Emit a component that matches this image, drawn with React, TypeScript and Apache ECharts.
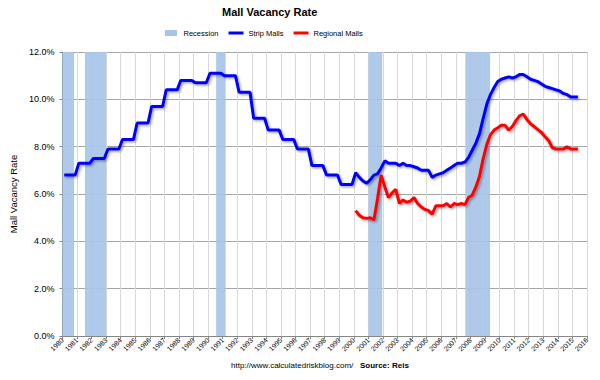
import React, { useEffect, useRef } from "react";
import * as echarts from "echarts";

// Quarterly vacancy rates (%), Strip Malls from 1980 Q1, Regional Malls from 2000 Q1
const stripStartYear = 1980;
const stripMalls = [
  6.8, 6.8, 6.8, 6.8, // 1980
  7.3, 7.3, 7.3, 7.3, // 1981
  7.5, 7.5, 7.5, 7.5, // 1982
  7.9, 7.9, 7.9, 7.9, // 1983
  8.3, 8.3, 8.3, 8.3, // 1984
  9.0, 9.0, 9.0, 9.0, // 1985
  9.7, 9.7, 9.7, 9.7, // 1986
  10.4, 10.4, 10.4, 10.4, // 1987
  10.8, 10.8, 10.8, 10.8, // 1988
  10.7, 10.7, 10.7, 10.7, // 1989
  11.1, 11.1, 11.1, 11.1, // 1990
  11.0, 11.0, 11.0, 11.0, // 1991
  10.3, 10.3, 10.3, 10.3, // 1992
  9.2, 9.2, 9.2, 9.2, // 1993
  8.7, 8.7, 8.7, 8.7, // 1994
  8.3, 8.3, 8.3, 8.3, // 1995
  7.9, 7.9, 7.9, 7.9, // 1996
  7.2, 7.2, 7.2, 7.2, // 1997
  6.8, 6.8, 6.8, 6.8, // 1998
  6.4, 6.4, 6.4, 6.4, // 1999
  6.9, 6.7, 6.55, 6.45, // 2000
  6.6, 6.8, 6.85, 7.1, // 2001
  7.4, 7.3, 7.3, 7.3, // 2002
  7.2, 7.3, 7.2, 7.2, // 2003
  7.15, 7.1, 7.0, 7.0, // 2004
  7.0, 6.7, 6.8, 6.85, // 2005
  6.9, 7.0, 7.1, 7.2, // 2006
  7.3, 7.3, 7.35, 7.55, // 2007
  7.85, 8.15, 8.55, 9.2, // 2008
  9.8, 10.2, 10.5, 10.75, // 2009
  10.85, 10.9, 10.95, 10.9, // 2010
  10.95, 11.05, 11.05, 10.95, // 2011
  10.85, 10.8, 10.75, 10.65, // 2012
  10.55, 10.5, 10.45, 10.4, // 2013
  10.35, 10.25, 10.2, 10.1, // 2014
  10.1, 10.1, // 2015
];

const regionalStartYear = 2000;
const regionalMalls = [
  5.3, 5.1, 5.0, 4.97, // 2000
  5.0, 4.9, 5.8, 6.8, // 2001
  6.3, 5.85, 6.05, 6.2, // 2002
  5.6, 5.75, 5.65, 5.7, // 2003
  5.85, 5.6, 5.45, 5.35, // 2004
  5.3, 5.15, 5.5, 5.5, // 2005
  5.5, 5.6, 5.45, 5.6, // 2006
  5.55, 5.6, 5.55, 5.85, // 2007
  5.95, 6.3, 6.75, 7.5, // 2008
  8.1, 8.5, 8.7, 8.8, // 2009
  8.9, 8.9, 8.7, 8.85, // 2010
  9.1, 9.3, 9.38, 9.15, // 2011
  8.97, 8.85, 8.72, 8.6, // 2012
  8.42, 8.25, 7.95, 7.9, // 2013
  7.9, 7.9, 8.0, 7.9, // 2014
  7.9, 7.9, // 2015
];

// Recession periods [start, end] in fractional years
const recessionStarts = [1980.0, 1981.55, 1990.55, 2001.0, 2007.65];
const recessionEnds = [1980.8, 1983.0, 1991.2, 2001.95, 2009.35];

const yTicks = [0, 2, 4, 6, 8, 10, 12];
const xMinYear = 1980;
const xMaxYear = 2016;

const FONT = "'Liberation Sans', Arial, sans-serif";

function toQuarterPoints(start: number, vals: number[]) {
  return vals.map((v, i) => [start + (i + 0.5) / 4, v]);
}

export default function App() {
  const ref = useRef<HTMLDivElement>(null);
  useEffect(() => {
    if (!ref.current) return;
    const chart = echarts.init(ref.current, undefined, { renderer: "svg" });
    const shadow = {
      shadowColor: "rgba(0,0,0,0.35)",
      shadowBlur: 2,
      shadowOffsetX: 1.5,
      shadowOffsetY: 1.5,
    };
    chart.setOption({
      animation: false,
      backgroundColor: "#ffffff",
      textStyle: { fontFamily: FONT },
      title: [
        {
          text: "Mall Vacancy Rate",
          left: 217,
          top: 1,
          textStyle: { fontSize: 11, fontWeight: "bold", color: "#000", fontFamily: FONT },
        },
        {
          text: "{a|http://www.calculatedriskblog.com/}   {b|Source: Reis}",
          left: 226,
          top: 355,
          textStyle: {
            fontFamily: FONT,
            fontSize: 8,
            lineHeight: 10,
            fontWeight: "normal",
            color: "#000",
            rich: {
              a: { fontSize: 8, lineHeight: 10, color: "#000", fontFamily: FONT },
              b: { fontSize: 8, lineHeight: 10, color: "#000", fontWeight: "bold", fontFamily: FONT },
            },
          },
        },
      ],
      legend: {
        left: 160,
        top: 24,
        itemGap: 10,
        itemWidth: 15,
        itemHeight: 6,
        textStyle: { fontSize: 7.5, color: "#000", fontFamily: FONT },
        data: [
          { name: "Recession", icon: "path://M0,0h12v6h-12z" },
          { name: "Strip Malls", icon: "path://M0,0h15v3h-15z" },
          { name: "Regional Malls", icon: "path://M0,0h15v3h-15z" },
        ],
      },
      grid: { left: 57, right: 13, top: 52, bottom: 44 },
      xAxis: {
        type: "value",
        min: xMinYear,
        max: xMaxYear,
        interval: 1,
        axisLine: { show: true, lineStyle: { color: "#868686", width: 1 } },
        axisTick: { show: true, length: 3, lineStyle: { color: "#868686" } },
        splitLine: { show: true, lineStyle: { color: "#D9D9D9", width: 1 } },
        axisLabel: {
          rotate: 45,
          fontSize: 7,
          margin: 3,
          color: "#000",
          fontFamily: FONT,
          formatter: (v: number) => String(v),
        },
      },
      yAxis: {
        type: "value",
        min: yTicks[0],
        max: yTicks[yTicks.length - 1],
        interval: 2,
        name: "Mall Vacancy Rate",
        nameLocation: "middle",
        nameGap: 38,
        nameRotate: 90,
        nameTextStyle: { fontSize: 9.5, color: "#000", fontFamily: FONT },
        axisLine: { show: true, lineStyle: { color: "#868686" } },
        axisTick: { show: true, length: 3, lineStyle: { color: "#868686" } },
        splitLine: { show: true, lineStyle: { color: "#A6A6A6", width: 1 } },
        axisLabel: {
          fontSize: 9,
          color: "#000",
          margin: 8,
          fontFamily: FONT,
          formatter: (v: number) => v.toFixed(1) + "%",
        },
      },
      series: [
        {
          name: "Recession",
          type: "line",
          data: [],
          z: 1,
          itemStyle: { color: "#A7C4E8" },
          lineStyle: { color: "#A7C4E8" },
          markArea: {
            silent: true,
            itemStyle: { color: "#A7C4E8", opacity: 0.92 },
            data: recessionStarts.map((s, i) => [{ xAxis: s }, { xAxis: recessionEnds[i] }]),
          },
        },
        {
          name: "Strip Malls",
          type: "line",
          data: toQuarterPoints(stripStartYear, stripMalls),
          showSymbol: false,
          symbol: "none",
          z: 3,
          itemStyle: { color: "#0000FF" },
          lineStyle: { color: "#0000FF", width: 3, ...shadow },
        },
        {
          name: "Regional Malls",
          type: "line",
          data: toQuarterPoints(regionalStartYear, regionalMalls),
          showSymbol: false,
          symbol: "none",
          z: 4,
          itemStyle: { color: "#FF0000" },
          lineStyle: { color: "#FF0000", width: 3, ...shadow },
        },
      ],
    });
    return () => chart.dispose();
  }, []);
  return <div ref={ref} style={{ width: 600, height: 380, margin: -8 }} />;
}
